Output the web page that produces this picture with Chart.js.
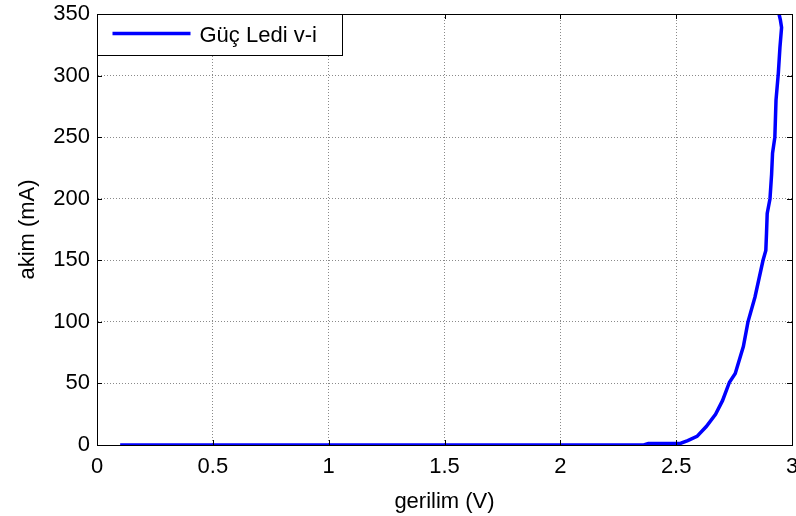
<!DOCTYPE html>
<html>
<head>
<meta charset="utf-8">
<script src="https://cdn.jsdelivr.net/npm/chart.js@4.4.1/dist/chart.umd.min.js"></script>
<style>
	body { margin: 0; background: #fff; }
	canvas { display: block; }
</style>
</head>
<body>
<canvas id="chart" width="796" height="516"></canvas>
<script>
// LED v-i characteristic (voltage in V, current in mA)
const voltage = [0.10, 2.36, 2.38, 2.50, 2.52, 2.55, 2.59, 2.63, 2.67, 2.70, 2.73, 2.755, 2.79, 2.81, 2.84, 2.875, 2.887, 2.890, 2.893, 2.905, 2.912, 2.916, 2.926, 2.931, 2.941, 2.948, 2.955, 2.950, 2.944];
const current = [0, 0, 1.2, 1.2, 1.5, 3.5, 7, 15, 25, 36, 51, 58, 80, 100, 120, 150, 158, 172, 188, 200, 220, 237, 250, 280, 302, 323, 339, 345, 350];
const seriesLabel = "Güç Ledi v-i";
const xTicks = [0, 0.5, 1, 1.5, 2, 2.5, 3];
const yTicks = [0, 50, 100, 150, 200, 250, 300, 350];

const points = voltage.map((v, i) => ({ x: v, y: current[i] }));
const FONT = "'Liberation Sans', Arial, sans-serif";

Chart.defaults.color = "#000";
Chart.defaults.font.family = FONT;
Chart.defaults.font.size = 22;

// box frame, inward tick marks on all four sides and the boxed legend
const matlabBox = {
	id: "matlabBox",
	afterDraw(chart) {
		const ctx = chart.ctx;
		const a = chart.chartArea;
		const xs = chart.scales.x;
		const ys = chart.scales.y;
		const len = 5;
		ctx.save();
		ctx.strokeStyle = "#000";
		ctx.lineWidth = 1;
		ctx.beginPath();
		for (const t of xTicks) {
			const px = Math.round(xs.getPixelForValue(t)) + 0.5;
			ctx.moveTo(px, a.bottom);
			ctx.lineTo(px, a.bottom - len);
			ctx.moveTo(px, a.top);
			ctx.lineTo(px, a.top + len);
		}
		for (const t of yTicks) {
			const py = Math.round(ys.getPixelForValue(t)) + 0.5;
			ctx.moveTo(a.left, py);
			ctx.lineTo(a.left + len, py);
			ctx.moveTo(a.right, py);
			ctx.lineTo(a.right - len, py);
		}
		ctx.stroke();
		ctx.strokeRect(Math.round(a.left) + 0.5, Math.round(a.top) + 0.5, Math.round(a.right - a.left), Math.round(a.bottom - a.top));

		// legend
		const ds = chart.data.datasets[0];
		const lx = Math.round(a.left) + 0.5;
		const ly = Math.round(a.top) + 0.5;
		const lw = 245;
		const lh = 41;
		ctx.fillStyle = "#fff";
		ctx.fillRect(lx, ly, lw, lh);
		ctx.strokeRect(lx, ly, lw, lh);
		ctx.strokeStyle = ds.borderColor;
		ctx.lineWidth = ds.borderWidth;
		ctx.beginPath();
		ctx.moveTo(lx + 15, ly + 19);
		ctx.lineTo(lx + 93, ly + 19);
		ctx.stroke();
		ctx.fillStyle = "#000";
		ctx.font = "22px " + FONT;
		ctx.textBaseline = "middle";
		ctx.fillText(ds.label, lx + 102, ly + 21);
		ctx.restore();
	}
};

new Chart(document.getElementById("chart"), {
	type: "scatter",
	data: {
		datasets: [
			{
				label: seriesLabel,
				data: points,
				showLine: true,
				borderColor: "#0000ff",
				backgroundColor: "#0000ff",
				borderWidth: 3.5,
				pointRadius: 0,
				tension: 0,
			},
		],
	},
	options: {
		responsive: false,
		animation: false,
		layout: { padding: { left: 0, top: 14, right: 4, bottom: 0 } },
		plugins: {
			legend: { display: false },
			tooltip: { enabled: false },
		},
		scales: {
			x: {
				type: "linear",
				min: 0,
				max: 3,
				afterBuildTicks: (scale) => { scale.ticks = xTicks.map((v) => ({ value: v })); },
				afterFit: (scale) => {
					scale.height = 71;
					scale.paddingLeft = 0;
					scale.paddingRight = 0;
				},
				ticks: {
					padding: 9,
					maxRotation: 0,
					callback: (v) => String(v),
				},
				grid: { color: "#8a8a8a", drawTicks: false },
				border: { color: "#000", dash: [1, 2] },
				title: {
					display: true,
					text: "gerilim (V)",
					font: { size: 22 },
					padding: { top: 0, bottom: 1 },
				},
			},
			y: {
				type: "linear",
				min: 0,
				max: 350,
				afterBuildTicks: (scale) => { scale.ticks = yTicks.map((v) => ({ value: v })); },
				afterFit: (scale) => {
					scale.width = 97;
					scale.paddingTop = 0;
					scale.paddingBottom = 0;
				},
				ticks: {
					padding: 7,
					callback: (v) => String(v),
				},
				grid: { color: "#8a8a8a", drawTicks: false },
				border: { color: "#000", dash: [1, 2] },
				title: {
					display: true,
					text: "akim (mA)",
					font: { size: 22 },
					padding: { top: 15, bottom: 0 },
				},
			},
		},
	},
	plugins: [matlabBox],
});
</script>
</body>
</html>
